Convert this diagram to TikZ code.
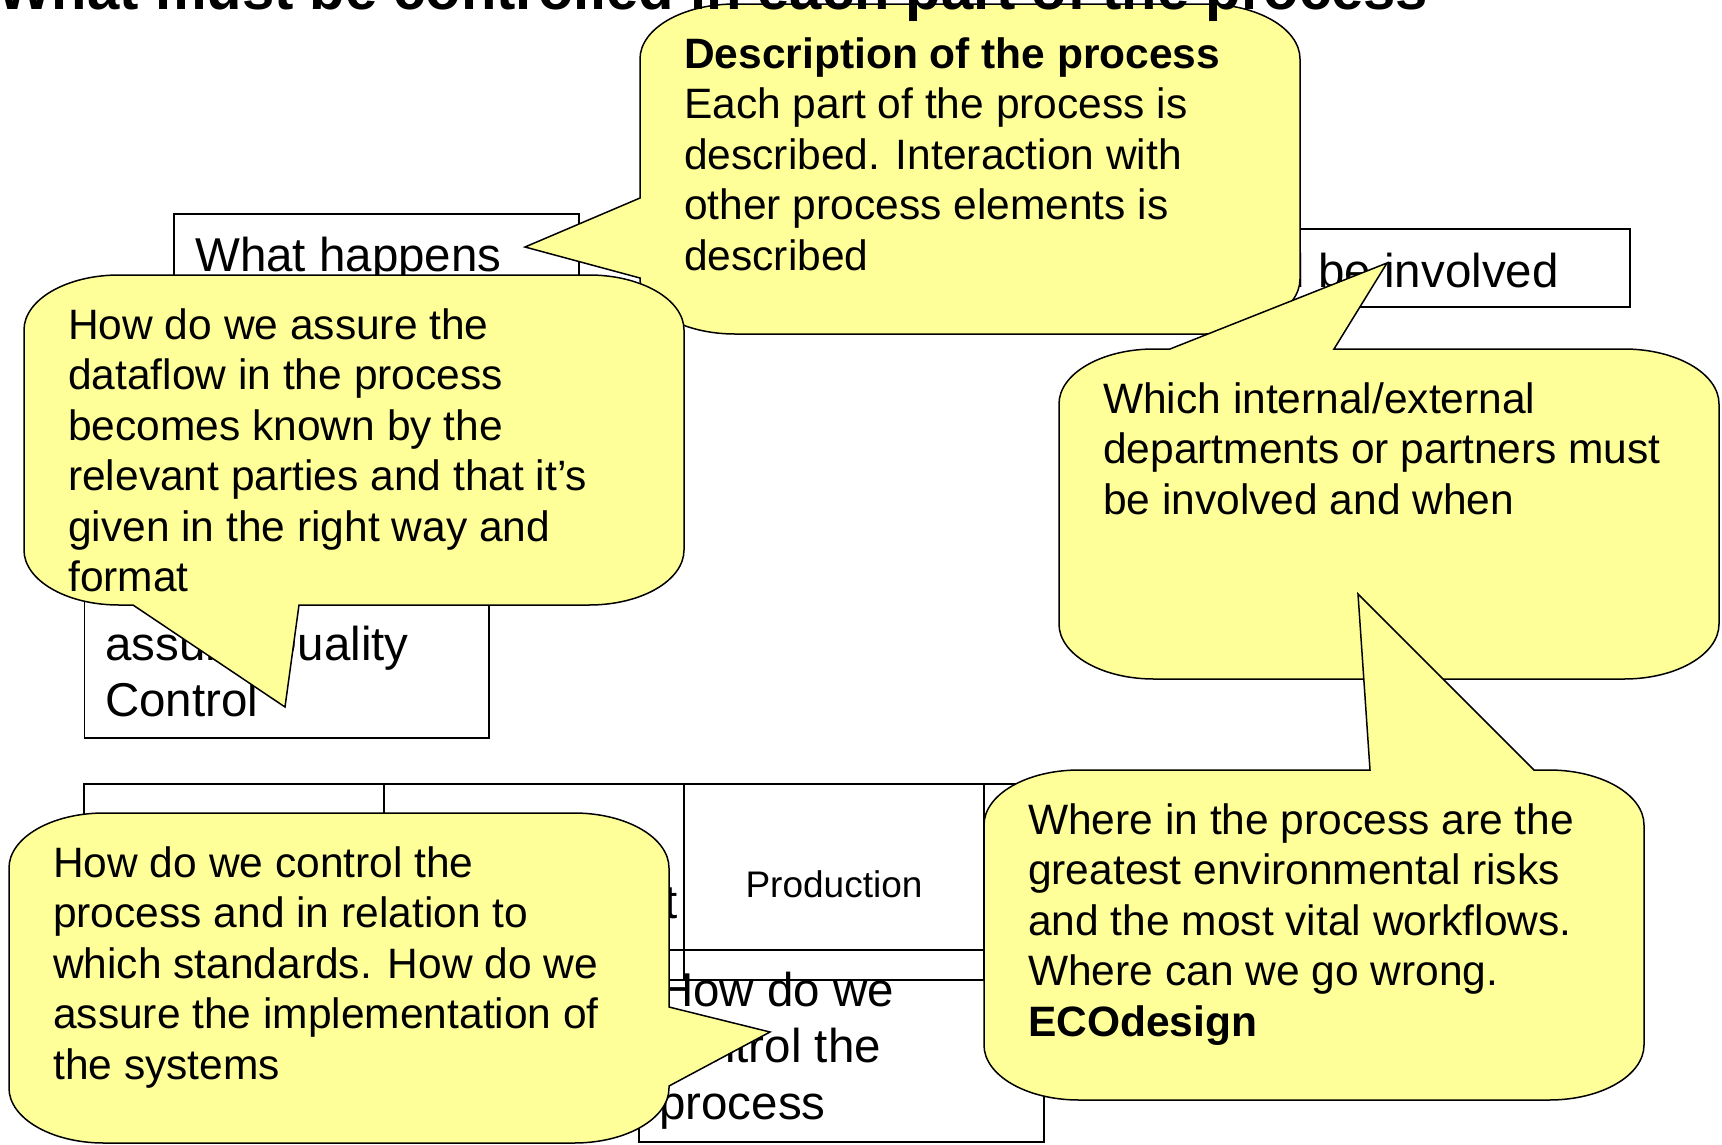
\documentclass[tikz,border=0pt]{standalone}
\usepackage{fontspec}
\setmainfont{Liberation Sans}
\definecolor{calloutYellow}{HTML}{FFFF99}

\begin{document}
\begin{tikzpicture}
[x=1pt,y=-1pt,
  boxDecorate/.style={draw,line width=1.5pt,fill=white},%
  calloutDecorate/.style={draw,line width=1.5pt,fill=calloutYellow,line join=miter},%
  bubbleText/.style={anchor=base west,inner sep=0pt,align=left,font=\fontsize{42.5}{50.5}\selectfont},%
  boxText/.style={anchor=base west,inner sep=0pt,align=left,font=\fontsize{47.5}{56.5}\selectfont},%
  cornerTL/.style={start angle=180,end angle=90,x radius=95pt,y radius=55pt},%
  cornerTR/.style={start angle=90,end angle=0,x radius=95pt,y radius=55pt},%
  cornerBR/.style={start angle=0,end angle=-90,x radius=95pt,y radius=55pt},%
  cornerBL/.style={start angle=270,end angle=180,x radius=95pt,y radius=55pt}]
\useasboundingbox (0,0) rectangle (1722,1144);
%% row of process parts
\foreach \x in {84,384,684,984}
{
  \draw[boxDecorate] (\x,784) rectangle ++(300,166);
  \draw[boxDecorate] (\x,950) rectangle ++(300,30);
}
\node (production) at (834,897) [anchor=base,inner sep=0pt,font=\fontsize{37}{44}\selectfont] {Production};
\node (development) at (538,918) [boxText,anchor=base] {Development};
%% boxes behind the callouts (text placed by its last baseline)
\draw[boxDecorate] (174,214) rectangle (579,500);
\node (happens) at (195,271.5) [boxText] {What happens};
\draw[boxDecorate] (1225,229) rectangle (1630,307);
\node (involved) at (1559,287) [boxText,anchor=base east] {Who should be involved};
\draw[boxDecorate] (84.5,560) rectangle (489,738);
\node (quality) at (105,716.5) [boxText] {assure Quality\\Control};
\draw[boxDecorate] (639,980) rectangle (1044,1142);
\node (control) at (659,1119) [boxText] {How do we\\control the\\process};
%% callouts
\path[calloutDecorate] (640,198) -- (640,59) arc[cornerTL] -- (1205,4) arc[cornerTR]
  -- (1300,279) arc[cornerBR] -- (735,334) arc[cornerBL] -- (640,278) -- (525,247) -- cycle;
\node (describe) at (684,270) [bubbleText] {\textbf{Description of the process}\\Each part of the process is\\described. Interaction with\\other process elements is\\described};
\path[calloutDecorate] (24,330) arc[cornerTL] -- (589,275) arc[cornerTR] -- (684,550) arc[cornerBR]
  -- (299,605) -- (285,707) -- (133,605) -- (119,605) arc[cornerBL] -- cycle;
\node (dataflow) at (68,591.5) [bubbleText] {How do we assure the\\dataflow in the process\\becomes known by the\\relevant parties and that it's\\given in the right way and\\format};
\path[calloutDecorate] (1059,404) arc[cornerTL] -- (1170,349) -- (1387,263) -- (1334,349) -- (1624,349)
  arc[cornerTR] -- (1719,624) arc[cornerBR] -- (1154,679) arc[cornerBL] -- cycle;
\node (partners) at (1103,514) [bubbleText] {Which internal/external\\departments or partners must\\be involved and when};
\path[calloutDecorate] (984,825) arc[cornerTL] -- (1370,770) -- (1358,594) -- (1534,770) -- (1549,770)
  arc[cornerTR] -- (1644,1045) arc[cornerBR] -- (1079,1100) arc[cornerBL] -- cycle;
\node (risks) at (1028,1036) [bubbleText] {Where in the process are the\\greatest environmental risks\\and the most vital workflows.\\Where can we go wrong.\\\textbf{ECOdesign}};
\path[calloutDecorate] (9,868) arc[cornerTL] -- (574,813) arc[cornerTR] -- (669,1007) -- (770,1032)
  -- (669,1086) -- (669,1088) arc[cornerBR] -- (104,1143) arc[cornerBL] -- cycle;
\node (standards) at (53,1079) [bubbleText] {How do we control the\\process and in relation to\\which standards. How do we\\assure the implementation of\\the systems};
%% title, cut at the top
\node (title) at (-3,9) [anchor=base west,inner sep=0pt,font=\fontsize{58}{60}\selectfont\bfseries] {What must be controlled in each part of the process};
\end{tikzpicture}
\end{document}
